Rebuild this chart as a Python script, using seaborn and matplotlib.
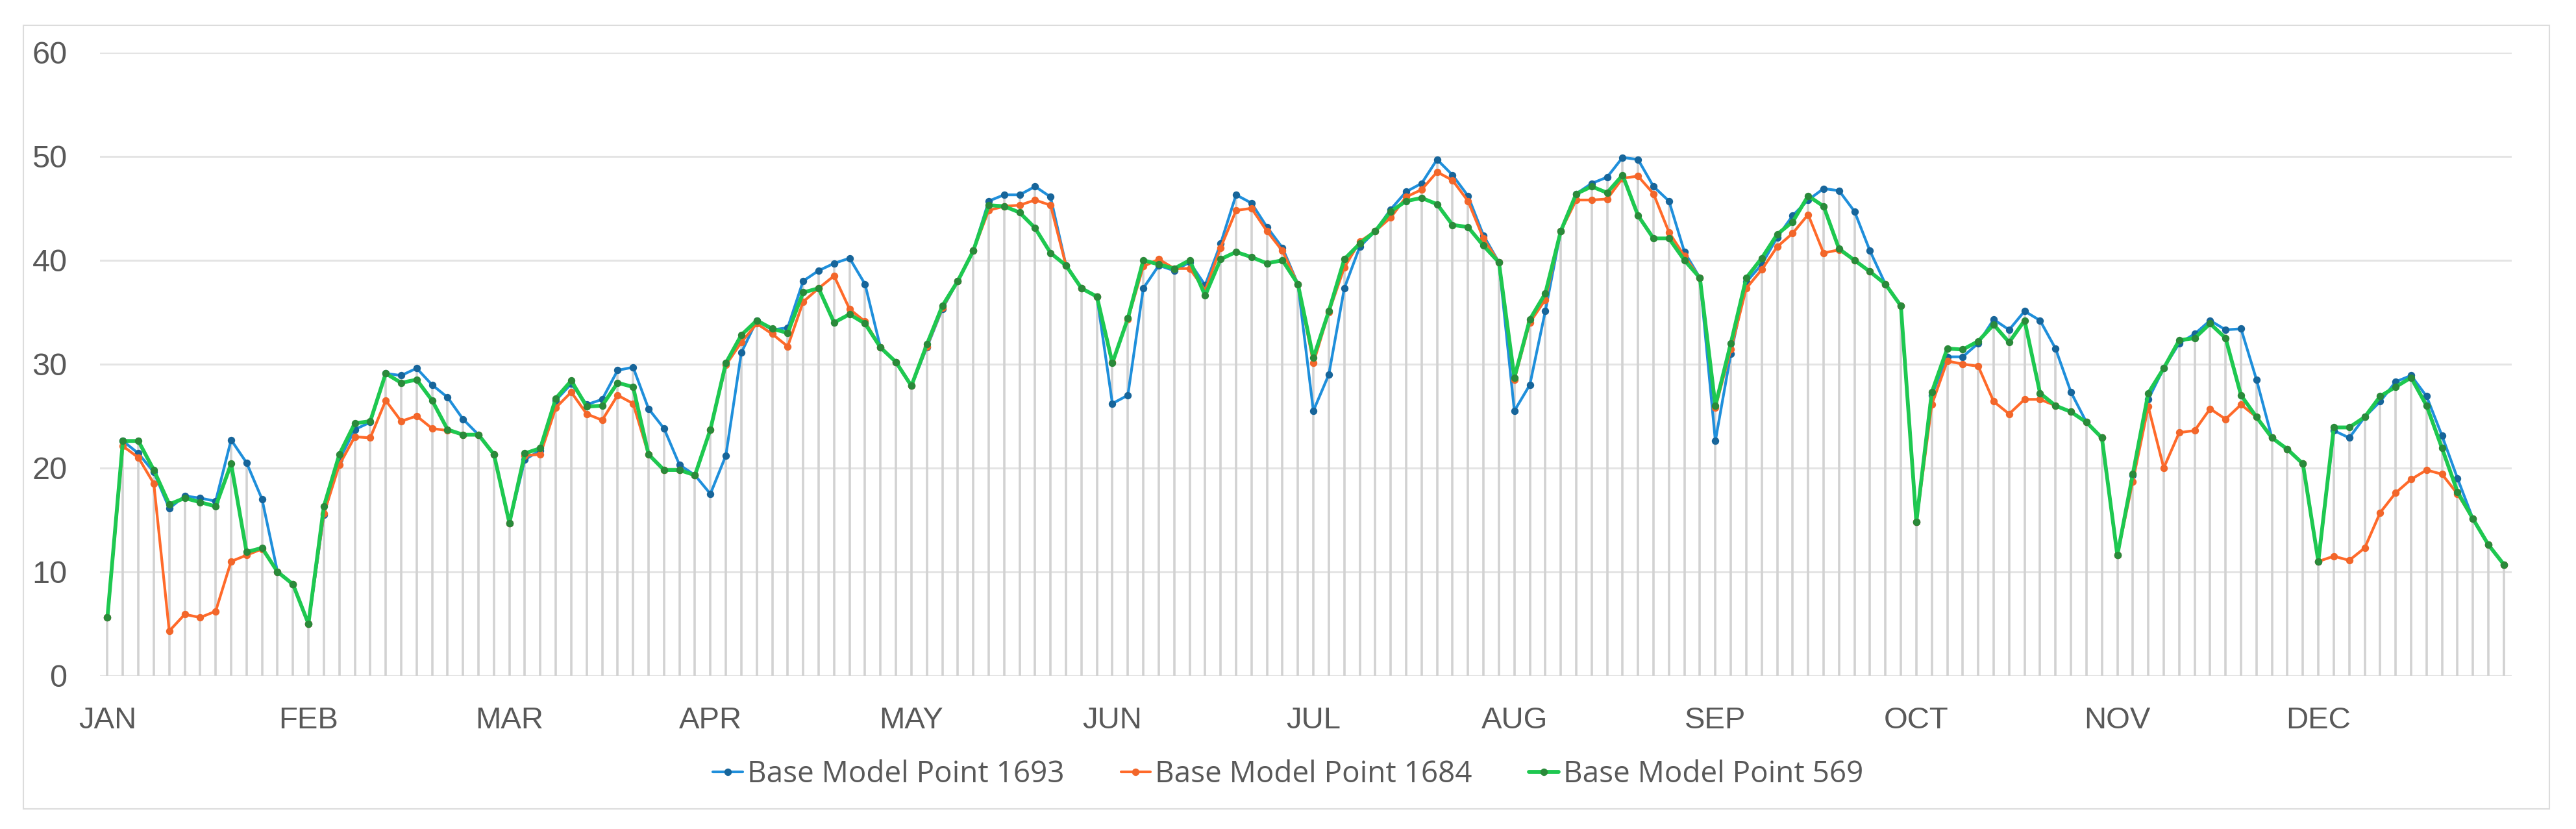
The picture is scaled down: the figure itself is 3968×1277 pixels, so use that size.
import pandas as pd
import seaborn as sns
import matplotlib.pyplot as plt
from matplotlib.patches import Rectangle

sns.set_theme(style="white")
plt.rcParams["font.family"] = ["Liberation Sans", "DejaVu Sans"]

# 13 points per month, one row per month
months = ["JAN", "FEB", "MAR", "APR", "MAY", "JUN",
          "JUL", "AUG", "SEP", "OCT", "NOV", "DEC"]

point_1693 = [
    5.6, 22.6, 21.4, 19.6, 16.1, 17.3, 17.1, 16.8, 22.7, 20.5, 17.0, 10.0, 8.8,
    5.0, 15.5, 20.8, 23.7, 24.4, 29.1, 28.9, 29.6, 28.0, 26.8, 24.7, 23.2, 21.3,
    14.7, 20.8, 21.7, 26.5, 28.1, 26.1, 26.6, 29.4, 29.7, 25.7, 23.8, 20.3, 19.3,
    17.5, 21.2, 31.1, 34.2, 33.3, 33.5, 38.0, 39.0, 39.7, 40.2, 37.7, 31.6, 30.2,
    27.9, 31.6, 35.3, 38.0, 40.9, 45.7, 46.3, 46.3, 47.1, 46.1, 39.5, 37.3, 36.5,
    26.2, 27.0, 37.3, 39.5, 39.0, 39.8, 37.6, 41.6, 46.3, 45.5, 43.2, 41.2, 37.7,
    25.5, 29.0, 37.3, 41.3, 42.8, 44.9, 46.6, 47.4, 49.7, 48.2, 46.2, 42.4, 39.8,
    25.5, 28.0, 35.1, 42.8, 46.4, 47.4, 48.0, 49.9, 49.7, 47.1, 45.7, 40.8, 38.3,
    22.6, 31.0, 37.9, 39.6, 42.2, 44.3, 45.8, 46.9, 46.7, 44.7, 40.9, 37.7, 35.6,
    14.8, 27.0, 30.7, 30.7, 32.0, 34.3, 33.3, 35.1, 34.2, 31.5, 27.3, 24.4, 22.9,
    11.6, 19.3, 26.6, 29.6, 32.0, 32.9, 34.2, 33.3, 33.4, 28.5, 22.9, 21.8, 20.4,
    11.0, 23.6, 22.9, 24.9, 26.4, 28.3, 28.9, 26.9, 23.1, 19.0, 15.1, 12.6, 10.7,
]

point_1684 = [
    5.6, 22.1, 21.0, 18.5, 4.3, 5.9, 5.6, 6.2, 11.0, 11.6, 12.2, 10.0, 8.8,
    5.0, 15.6, 20.3, 23.0, 22.9, 26.5, 24.5, 25.0, 23.8, 23.6, 23.2, 23.2, 21.3,
    14.7, 21.2, 21.3, 25.8, 27.3, 25.2, 24.6, 27.0, 26.2, 21.3, 19.8, 19.8, 19.3,
    23.7, 29.9, 32.1, 33.9, 32.9, 31.7, 36.0, 37.3, 38.5, 35.3, 34.1, 31.6, 30.2,
    27.9, 31.7, 35.4, 38.0, 40.9, 44.8, 45.2, 45.3, 45.8, 45.3, 39.5, 37.3, 36.5,
    30.2, 34.3, 39.4, 40.1, 39.2, 39.2, 37.1, 41.2, 44.8, 45.0, 42.8, 40.9, 37.7,
    30.1, 35.0, 39.3, 41.8, 42.8, 44.1, 46.1, 46.8, 48.5, 47.7, 45.7, 42.1, 39.8,
    28.5, 34.0, 36.2, 42.8, 45.8, 45.8, 45.9, 47.9, 48.1, 46.4, 42.7, 40.4, 38.3,
    25.8, 31.4, 37.3, 39.1, 41.3, 42.6, 44.4, 40.7, 41.0, 40.0, 38.9, 37.7, 35.6,
    14.8, 26.1, 30.3, 30.0, 29.8, 26.4, 25.2, 26.6, 26.6, 26.0, 25.4, 24.4, 22.9,
    11.6, 18.7, 25.9, 20.0, 23.4, 23.6, 25.7, 24.7, 26.1, 24.9, 22.9, 21.8, 20.4,
    11.0, 11.5, 11.1, 12.3, 15.7, 17.6, 18.9, 19.8, 19.4, 17.5, 15.1, 12.6, 10.7,
]

point_569 = [
    5.6, 22.6, 22.6, 19.8, 16.5, 17.1, 16.7, 16.3, 20.4, 11.9, 12.3, 10.0, 8.8,
    5.0, 16.3, 21.3, 24.3, 24.5, 29.1, 28.2, 28.5, 26.5, 23.7, 23.2, 23.2, 21.3,
    14.7, 21.4, 21.9, 26.7, 28.4, 25.9, 26.0, 28.2, 27.8, 21.3, 19.8, 19.8, 19.3,
    23.7, 30.1, 32.8, 34.2, 33.4, 33.0, 36.9, 37.3, 34.0, 34.8, 33.9, 31.6, 30.2,
    27.9, 31.9, 35.6, 38.0, 40.9, 45.3, 45.2, 44.6, 43.1, 40.7, 39.5, 37.3, 36.5,
    30.1, 34.4, 40.0, 39.6, 39.2, 40.0, 36.6, 40.1, 40.8, 40.3, 39.7, 40.0, 37.7,
    30.6, 35.1, 40.1, 41.6, 42.8, 44.7, 45.7, 46.0, 45.4, 43.4, 43.2, 41.4, 39.8,
    28.7, 34.3, 36.8, 42.8, 46.4, 47.1, 46.5, 48.2, 44.3, 42.1, 42.1, 40.0, 38.3,
    26.0, 32.0, 38.3, 40.2, 42.5, 43.7, 46.2, 45.2, 41.1, 40.0, 38.9, 37.7, 35.6,
    14.8, 27.3, 31.5, 31.4, 32.2, 33.8, 32.1, 34.2, 27.2, 26.0, 25.4, 24.4, 22.9,
    11.6, 19.4, 27.2, 29.6, 32.3, 32.5, 33.9, 32.5, 27.0, 24.9, 22.9, 21.8, 20.4,
    11.0, 23.9, 23.9, 24.9, 26.9, 27.8, 28.7, 26.0, 21.9, 17.7, 15.1, 12.6, 10.7,
]

series_names = ["Base Model Point 1693", "Base Model Point 1684", "Base Model Point 569"]

wide = pd.DataFrame({
    series_names[0]: point_1693,
    series_names[1]: point_1684,
    series_names[2]: point_569,
})
wide["step"] = range(len(wide))
df = wide.melt(id_vars="step", var_name="series", value_name="value")

# (line colour, line width, marker colour)
styles = {
    series_names[0]: ("#1f8fdb", 3.0, "#17659a"),
    series_names[1]: ("#ff6a2a", 3.0, "#f2662a"),
    series_names[2]: ("#1ec850", 4.2, "#2a8a3a"),
}

fig = plt.figure(figsize=(39.68, 12.77), dpi=100)
ax = fig.add_axes([0.0387, 0.185, 0.9363, 0.7516])

# drop lines from the highest series down to the axis
peak = wide[series_names].max(axis=1)
ax.vlines(wide["step"], 0, peak, color="#d2d2d2", lw=2.6, zorder=1)

for name in series_names:
    color, lw, mcolor = styles[name]
    sns.lineplot(data=df[df["series"] == name], x="step", y="value",
                 color=color, lw=lw, marker="o", markersize=7,
                 markerfacecolor=mcolor, markeredgecolor=mcolor,
                 markeredgewidth=1.2, label=name, ax=ax, zorder=3)

ax.set_xlim(-0.5, len(wide) - 0.5)
ax.set_ylim(0, 60)
ax.set_yticks(range(0, 61, 10))
ax.set_xticks(range(0, len(wide), 13))
ax.set_xticklabels(months)
ax.set_xlabel("")
ax.set_ylabel("")
ax.yaxis.grid(True, color="#e4e4e4", lw=2.2, zorder=0)
ax.xaxis.grid(False)
ax.set_axisbelow(True)
sns.despine(ax=ax, left=True, bottom=True, top=True, right=True)

ax.tick_params(axis="x", length=0, pad=34, labelsize=34, labelcolor="#595959")
ax.tick_params(axis="y", length=0, pad=36, labelsize=35, labelcolor="#595959")

handles, labels = ax.get_legend_handles_labels()
ax.get_legend().remove()
fig.legend(handles, labels, loc="center", bbox_to_anchor=(0.5, 0.066), ncol=3,
           frameon=False, handlelength=1.0, handletextpad=0.15, columnspacing=1.9,
           prop={"family": ["Open Sans", "DejaVu Sans"], "size": 33},
           labelcolor="#595959")

# chart area border
fig.patches.append(Rectangle((36 / 3968, 1 - 1246 / 1277), (3927 - 36) / 3968,
                             (1246 - 39) / 1277, transform=fig.transFigure,
                             fill=False, edgecolor="#dcdcdc", lw=1.5))

fig.savefig("out.png", dpi=100)
